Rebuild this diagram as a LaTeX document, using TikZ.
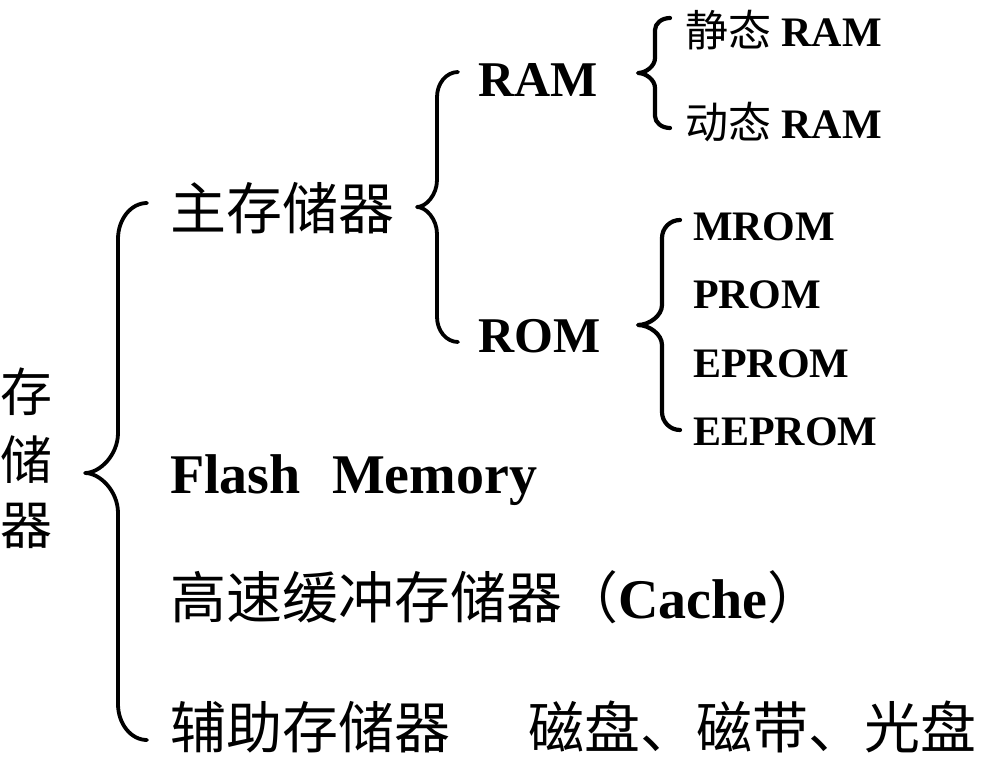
\documentclass[tikz,border=0pt]{standalone}
\usepackage{fontspec}
\setmainfont{Liberation Serif}
\newfontfamily\cjk{Noto Sans CJK SC}
\newcommand\mybrace[9]{%
  \draw[#9] (#1,#4) .. controls ({#1-0.552*(#1-#2)},#4) and (#2,{#4+0.448*#7}) .. (#2,{#4+#7})
   -- (#2,{#5-#8}) .. controls (#2,{#5-0.448*#8}) and ({#2-0.552*(#2-#3)},#5) .. (#3,#5)
   .. controls ({#2-0.552*(#2-#3)},#5) and (#2,{#5+0.448*#8}) .. (#2,{#5+#8})
   -- (#2,{#6-#7}) .. controls (#2,{#6-0.448*#7}) and ({#1-0.552*(#1-#2)},#6) .. (#1,#6);}
\tikzset{
  lbl/.style={inner sep=0pt, outer sep=0pt, anchor=base west},
  fsroot/.style={font=\fontsize{52}{56}\selectfont\cjk},
  fsbig/.style={font=\fontsize{56}{60}\selectfont\bfseries},
  fsmid/.style={font=\fontsize{50}{54}\selectfont\bfseries},
  fssmall/.style={font=\fontsize{42}{46}\selectfont\bfseries},
  bracebig/.style={line width=3.8pt, line cap=round, line join=round},
  bracesmall/.style={line width=4.2pt, line cap=round, line join=round},
}
\begin{document}
\begin{tikzpicture}[x=1pt,y=-1pt]
\useasboundingbox (0,0) rectangle (1000,757);
\fill[white] (0,0) rectangle (1000,757);
% root
\node[lbl, fsroot] (r1) at (0,411) {存};
\node[lbl, fsroot] (r2) at (0,479) {储};
\node[lbl, fsroot] (r3) at (0,544) {器};
% level 1
\node[lbl, fsbig] (main) at (170,229) {\cjk\mdseries 主存储器};
\node[lbl, fsbig] (flash) at (170,493) {Flash\hspace{0.56em}Memory};
\node[lbl, fsbig] (cache) at (170,618) {{\cjk\mdseries 高速缓冲存储器（}Cache{\cjk\mdseries ）}};
\node[lbl, fsbig] (aux) at (170,748) {\cjk\mdseries 辅助存储器};
\node[lbl, fsbig] (media) at (528,748) {\cjk\mdseries 磁盘、磁带、光盘};
% level 2
\node[lbl, fsmid] (ram) at (478,97) {RAM};
\node[lbl, fsmid] (rom) at (478,352) {ROM};
% level 3
\node[lbl, fssmall] (sram) at (685,47) {{\cjk\mdseries\fontsize{43}{46}\selectfont 静态} RAM};
\node[lbl, fssmall] (dram) at (685,138) {{\cjk\mdseries\fontsize{43}{46}\selectfont 动态} RAM};
\node[lbl, fssmall] (mrom) at (693,240) {MROM};
\node[lbl, fssmall] (prom) at (693,308) {PROM};
\node[lbl, fssmall] (eprom) at (693,377) {EPROM};
\node[lbl, fssmall] (eeprom) at (693,445) {EEPROM};
% braces
\mybrace{147}{118}{85}{203}{473}{740}{36}{40}{bracebig}
\mybrace{458}{437}{417}{72}{207}{342}{25}{27}{bracebig}
\mybrace{670}{655}{638}{18}{73}{128}{12}{15}{bracesmall}
\mybrace{680}{662}{638}{220}{325}{430}{18}{20}{bracesmall}
\end{tikzpicture}
\end{document}
